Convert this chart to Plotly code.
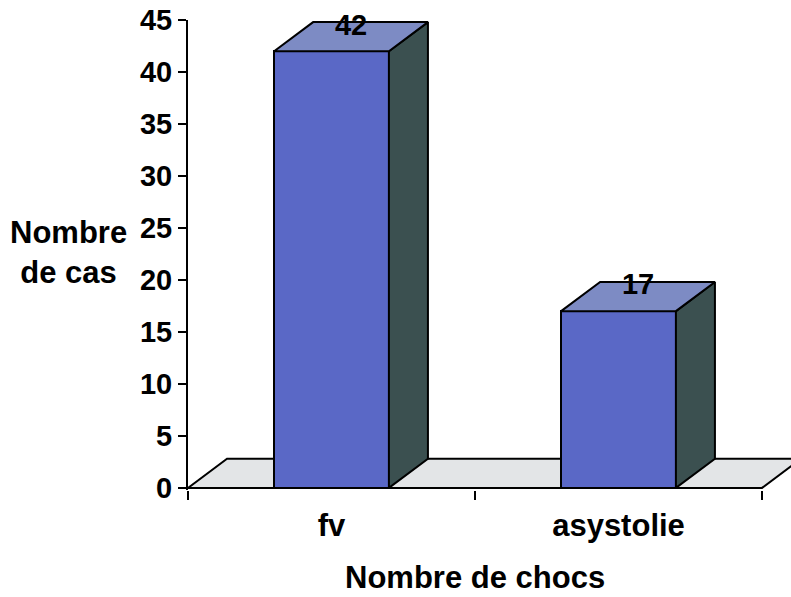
import plotly.graph_objects as go

# ---- data ----
categories = ["fv", "asystolie"]
values = [42, 17]
value_labels = ["42", "17"]
y_ticks = [0, 5, 10, 15, 20, 25, 30, 35, 40, 45]
y_title = "Nombre<br>de cas"
x_title = "Nombre de chocs"

# ---- style / geometry ----
positions = [0.5, 1.5]
BAR_W = 0.40
DX = 0.136   # depth offset in x units
DY = 2.8     # depth offset in y units
LABEL_DROP = 0.5
FRONT = "#5a68c6"
TOP = "#7d8bc4"
SIDE = "#3b5050"
FLOOR = "#e3e5e7"
FONT = "Liberation Sans, Arial, sans-serif"

fig = go.Figure()

# front faces (bars)
fig.add_trace(go.Bar(
    x=positions, y=values, width=BAR_W,
    marker=dict(color=FRONT, line=dict(color="black", width=2)),
    showlegend=False, hoverinfo="skip",
))

# side and top faces
for p, v in zip(positions, values):
    x0 = p - BAR_W / 2
    x1 = p + BAR_W / 2
    fig.add_trace(go.Scatter(
        x=[x1, x1, x1 + DX, x1 + DX, x1], y=[0, v, v + DY, DY, 0],
        fill="toself", fillcolor=SIDE, mode="lines",
        line=dict(color="black", width=2), showlegend=False, hoverinfo="skip",
    ))
    fig.add_trace(go.Scatter(
        x=[x0, x0 + DX, x1 + DX, x1, x0], y=[v, v + DY, v + DY, v, v],
        fill="toself", fillcolor=TOP, mode="lines",
        line=dict(color="black", width=2), showlegend=False, hoverinfo="skip",
    ))

# value labels
fig.add_trace(go.Scatter(
    x=[p + DX / 2 for p in positions], y=[v + DY - LABEL_DROP for v in values],
    text=value_labels, mode="text", textposition="middle center",
    textfont=dict(family=FONT, size=29, color="black", weight="bold"),
    cliponaxis=False, showlegend=False, hoverinfo="skip",
))

# floor
n = len(categories)
fig.add_shape(
    type="path",
    path=f"M 0 0 L {DX} {DY} L {n + DX} {DY} L {n} 0 Z",
    xref="x", yref="y", layer="below",
    fillcolor=FLOOR, line=dict(color="black", width=2),
)

fig.update_layout(
    width=791, height=597,
    margin=dict(l=188, r=0, t=20, b=107),
    paper_bgcolor="white", plot_bgcolor="white",
    font=dict(family=FONT, color="black"),
    bargap=0,
)

fig.update_xaxes(
    range=[0, 603 / 287], showgrid=False, zeroline=False, showline=False,
    automargin=False, ticklabeloverflow="allow",
    tickmode="array", tickvals=positions, ticktext=categories,
    ticks="", ticklabelstandoff=14,
    tickfont=dict(family=FONT, size=31, color="black", weight="bold"),
    minor=dict(tickmode="array", tickvals=[0, 1, 2], ticks="outside",
               ticklen=9, tickwidth=2, tickcolor="black", showgrid=False),
)
fig.update_yaxes(
    range=[-0.2, 45], showgrid=False, zeroline=False, automargin=False,
    ticklabeloverflow="allow",
    showline=True, linecolor="black", linewidth=2,
    tickmode="array", tickvals=y_ticks, ticktext=[str(t) for t in y_ticks],
    ticks="outside", ticklen=8, tickwidth=2, tickcolor="black",
    tickfont=dict(family=FONT, size=29, color="black", weight="bold"),
)

fig.add_annotation(
    text=y_title, xref="paper", yref="paper", x=-0.199, y=0.506,
    xanchor="center", yanchor="middle", showarrow=False, align="center",
    font=dict(family=FONT, size=31, color="black", weight="bold"),
)
fig.add_annotation(
    text=x_title, xref="x", yref="paper", x=1, y=-0.187,
    xanchor="center", yanchor="middle", showarrow=False,
    font=dict(family=FONT, size=31, color="black", weight="bold"),
)

# remove the default 8px page margin so the figure fills the window
fig.write_html("out.html", config={"displayModeBar": False},
               post_script="document.body.style.margin='0';")
